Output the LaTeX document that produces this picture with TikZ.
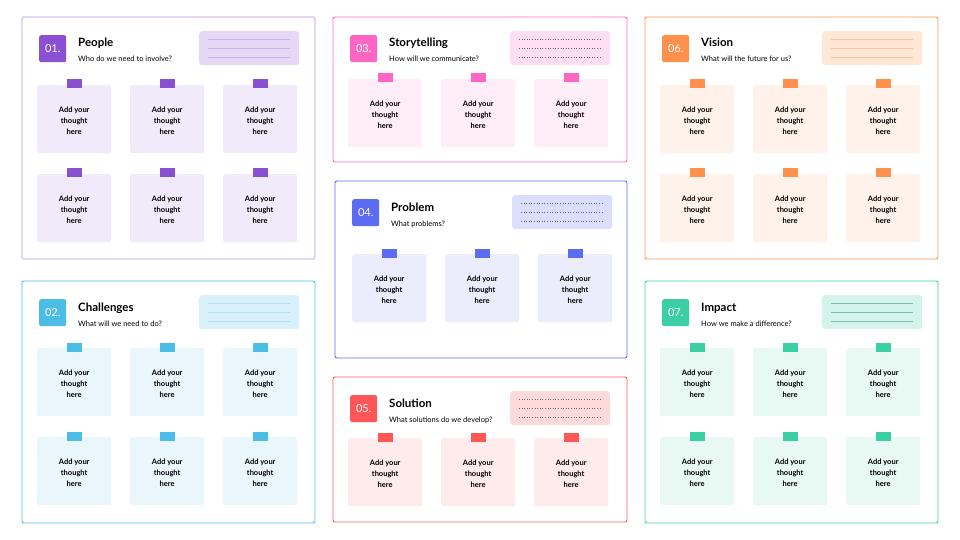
\documentclass[tikz,border=0pt]{standalone}
\usepackage{fontspec}
\setmainfont{Lato}
\usetikzlibrary{positioning}
\definecolor{cPeople}{HTML}{8B4FD2}
\definecolor{cChall}{HTML}{4BBDE6}
\definecolor{cStory}{HTML}{FF66C4}
\definecolor{cProb}{HTML}{5B6CF2}
\definecolor{cSol}{HTML}{FF5757}
\definecolor{cVision}{HTML}{FF914D}
\definecolor{cImpact}{HTML}{3CCFA6}
\tikzset{
  board/.style={draw=#1, line width=0.9pt, rounded corners=2pt},
  badge/.style={fill=#1, rounded corners=2pt, minimum width=27pt, minimum height=27pt,
    inner sep=0pt, text=white, font=\fontsize{11}{11}\selectfont},
  heading/.style={anchor=base west, font=\fontsize{11.5}{12}\selectfont\bfseries, inner sep=0pt},
  subline/.style={anchor=base west, font=\fontsize{7.5}{8}\selectfont, inner sep=0pt},
  linebox/.style={fill=#1!22, rounded corners=3pt, minimum width=100pt, minimum height=34pt,
    anchor=north west, inner sep=0pt},
  sticky/.style={fill=#1!12, rounded corners=2pt, minimum width=74pt, minimum height=68pt,
    anchor=north west, inner sep=0pt},
  stickytext/.style={align=center, inner sep=0pt, font=\fontsize{7.5}{11}\selectfont\bfseries},
  tab/.style={fill=#1, minimum width=15pt, minimum height=9pt, inner sep=0pt, anchor=center},
}
% #1 id, #2 colour, #3 x, #4 y, #5 w, #6 h, #7 number, #8 title, #9 question
\newcommand\boardhead[9]{%
  \draw[board=#2] (#3,#4) rectangle ++(#5,#6);
  \node[badge=#2, anchor=north west] (#1-num) at (#3+17,#4+18) {#7};
  \node[heading] (#1-title) at (#3+56,#4+30) {#8};
  \node[subline] (#1-sub) at (#3+56,#4+45) {#9};
  \node[linebox=#2] (#1-lines) at (#3+177,#4+14) {};
}
\newcommand\hatch[2]{% #1 lines node, #2 style
  \foreach \k in {-1,0,1}
    \draw[#2] ([xshift=9pt,yshift=\k*9pt]#1.west) -- ([xshift=-9pt,yshift=\k*9pt]#1.east);
}
% #1 id, #2 colour, #3 x, #4 y
\newcommand\note[4]{%
  \node[sticky=#2] (#1) at (#3,#4) {};
  \node[stickytext] (#1-txt) at ([yshift=-2pt]#1.center) {Add your\\thought\\here};
  \node[tab=#2] (#1-tab) at ([yshift=1pt]#1.north) {};
}
\begin{document}
\begin{tikzpicture}[x=1pt,y=-1pt]
\useasboundingbox (0,0) rectangle (960,540);

% 01 people
\boardhead{pe}{cPeople}{22}{17}{293}{242}{01.}{People}{Who do we need to involve?}
\draw[board=white, line width=1.2pt] (22,17) rectangle ++(293,242);
\draw[board=cPeople!40] (22,17) rectangle ++(293,242);
\hatch{pe-lines}{cPeople!45, line width=0.8pt}
\foreach \c [count=\i] in {37,130,223}
  \foreach \r [count=\j] in {85,174}
    \note{pe-\i\j}{cPeople}{\c}{\r};

% 02 challenges
\boardhead{ch}{cChall}{22}{281}{293}{242}{02.}{Challenges}{What will we need to do?}
\hatch{ch-lines}{cChall!45, line width=0.8pt}
\foreach \c [count=\i] in {37,130,223}
  \foreach \r [count=\j] in {348,437}
    \note{ch-\i\j}{cChall}{\c}{\r};

% 03 storytelling
\boardhead{st}{cStory}{333}{17}{294}{145}{03.}{Storytelling}{How will we communicate?}
\hatch{st-lines}{black!60, dotted, line width=0.6pt}
\foreach \c [count=\i] in {348,441,534}
  \note{st-\i}{cStory}{\c}{79};

% 04 problem
\boardhead{pr}{cProb}{335}{181}{292}{177}{04.}{Problem}{What problems?}
\hatch{pr-lines}{black!60, dotted, line width=0.6pt}
\foreach \c [count=\i] in {352,445,538}
  \note{pr-\i}{cProb}{\c}{254};

% 05 solution
\boardhead{so}{cSol}{333}{377}{294}{145}{05.}{Solution}{What solutions do we develop?}
\hatch{so-lines}{black!60, dotted, line width=0.6pt}
\foreach \c [count=\i] in {348,441,534}
  \note{so-\i}{cSol}{\c}{438};

% 06 vision
\boardhead{vi}{cVision}{645}{17}{293}{242}{06.}{Vision}{What will the future for us?}
\hatch{vi-lines}{cVision!55, line width=0.8pt}
\foreach \c [count=\i] in {660,753,846}
  \foreach \r [count=\j] in {85,174}
    \note{vi-\i\j}{cVision}{\c}{\r};

% 07 impact
\boardhead{im}{cImpact}{645}{281}{293}{242}{07.}{Impact}{How we make a difference?}
\hatch{im-lines}{cImpact!70!black!60, line width=0.8pt}
\foreach \c [count=\i] in {660,753,846}
  \foreach \r [count=\j] in {348,437}
    \note{im-\i\j}{cImpact}{\c}{\r};
\end{tikzpicture}
\end{document}
